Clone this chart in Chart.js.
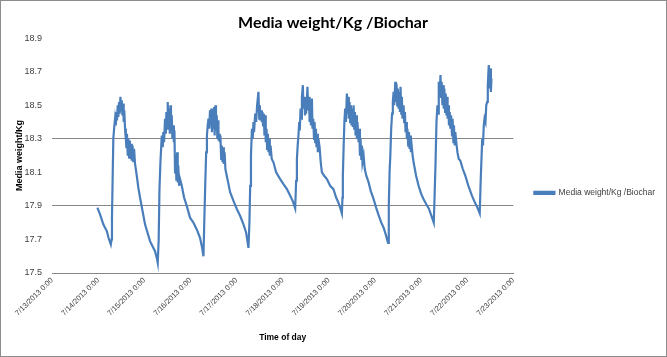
<!DOCTYPE html>
<html><head><meta charset="utf-8">
<script src="https://cdn.jsdelivr.net/npm/chart.js@4.4.1/dist/chart.umd.min.js"></script>
<style>
html,body{margin:0;padding:0;background:#fff;}
#wrap{width:665px;height:355px;border:1px solid #8c8c8c;}
canvas{display:block;}
</style></head>
<body><div id="wrap"><canvas id="c" width="665" height="355"></canvas></div>
<script>
const chartTitle = 'Media weight/Kg /Biochar';
const seriesName = 'Media weight/Kg /Biochar';
const yAxisTitle = 'Media weight/Kg';
const xAxisTitle = 'Time of day';
const dayLabels = ['7/13/2013 0:00','7/14/2013 0:00','7/15/2013 0:00','7/16/2013 0:00','7/17/2013 0:00','7/18/2013 0:00','7/19/2013 0:00','7/20/2013 0:00','7/21/2013 0:00','7/22/2013 0:00','7/23/2013 0:00'];
const gridValues = [17.9, 18.3];

// hours since 7/13/2013 0:00
const hoursSinceStart = [
  23.6,25.0,26.7,27.6,28.5,29.4,30.6,31.0,31.2,31.6,
  31.9,32.3,32.8,33.2,33.5,33.8,34.2,34.5,34.9,35.2,
  35.6,35.9,36.3,36.6,37.0,37.3,37.6,38.0,38.4,38.7,
  39.0,39.4,39.7,40.1,40.5,40.8,41.1,41.5,41.9,42.3,
  42.7,43.2,44.1,44.9,45.8,47.1,48.4,49.7,51.0,52.3,
  53.6,54.5,55.0,
  55.5,55.9,56.4,57.1,57.6,57.9,58.3,58.8,59.2,59.5,
  59.9,60.2,60.5,60.9,61.3,61.6,61.9,62.3,62.6,63.0,
  63.4,63.7,64.0,64.4,64.7,65.1,65.4,65.7,66.1,66.6,
  67.5,68.7,70.1,71.8,73.6,75.3,77.0,78.1,78.8,
  79.2,79.7,80.2,80.6,81.0,81.4,81.8,82.2,82.5,82.9,
  83.2,83.6,83.9,84.3,84.6,85.0,85.3,85.7,86.0,86.4,
  86.6,87.0,87.3,87.6,88.0,88.3,88.7,89.0,89.4,89.8,
  90.2,90.9,91.8,92.7,94.4,96.2,97.9,99.6,101.0,102.2,
  102.7,103.1,103.5,104.0,104.4,104.8,105.1,105.7,106.2,106.7,
  107.4,107.8,108.1,108.4,108.8,109.2,109.5,109.8,110.2,110.5,
  110.9,111.2,111.6,111.9,112.3,112.6,112.9,113.3,113.7,114.3,
  115.2,116.6,118.7,120.4,122.2,123.9,125.2,126.5,
  127.0,127.4,127.8,128.2,128.6,128.9,129.3,129.6,130.0,130.5,
  130.8,131.2,131.6,131.9,132.2,132.9,133.3,133.7,134.0,134.4,
  134.7,135.2,135.5,135.9,136.3,136.6,136.9,137.3,137.6,138.0,
  138.3,138.6,139.2,139.8,140.4,141.6,143.0,144.7,146.4,147.8,
  149.0,149.9,150.8,
  151.1,151.3,151.7,152.1,152.5,152.9,153.4,153.7,154.1,154.4,
  154.8,155.1,155.5,155.8,156.2,156.5,156.9,157.2,157.6,157.9,
  158.3,158.6,158.9,159.5,159.8,160.2,160.5,160.9,161.2,161.5,
  162.1,162.7,163.5,164.7,165.8,167.3,168.6,169.9,171.3,172.5,
  173.6,174.8,
  175.2,175.6,176.0,176.4,176.9,177.3,177.7,178.0,178.6,178.9,
  179.2,179.6,179.9,180.3,180.6,181.0,181.3,181.7,182.0,182.3,
  182.9,183.2,183.6,183.9,184.3,184.6,184.9,185.3,185.7,186.0,
  186.3,186.7,187.1,187.6,188.1,189.4,190.7,192.1,193.3,194.7,
  196.0,197.1,198.6,
  199.0,199.5,200.0,200.5,200.9,201.2,201.6,202.1,202.4,202.7,
  203.1,203.4,203.8,204.1,204.5,204.8,205.2,205.5,205.8,206.2,
  206.5,206.9,207.2,207.6,208.1,208.4,208.8,209.1,209.5,209.8,
  210.3,210.9,211.6,212.4,213.7,215.0,216.6,218.5,220.0,221.3,
  222.5,
  223.0,223.8,224.2,224.6,225.0,225.5,225.9,226.4,226.7,227.2,
  227.6,228.0,228.3,228.6
];
const weightKg = [
  17.89,17.85,17.79,17.77,17.75,17.71,17.67,17.70,17.83,18.10,
  18.30,18.36,18.42,18.38,18.46,18.41,18.50,18.43,18.52,18.45,
  18.55,18.47,18.53,18.44,18.51,18.40,18.47,18.36,18.30,18.25,
  18.33,18.20,18.30,18.19,18.29,18.18,18.27,18.17,18.26,18.16,
  18.24,18.15,18.08,18.01,17.95,17.87,17.79,17.74,17.69,17.66,
  17.63,17.59,17.56,
  17.70,18.00,18.16,18.32,18.25,18.34,18.28,18.42,18.33,18.46,
  18.36,18.52,18.40,18.48,18.33,18.50,18.36,18.44,18.30,18.38,
  18.28,18.35,18.10,18.20,18.05,18.22,18.04,18.14,18.02,18.06,
  18.02,17.95,17.90,17.83,17.80,17.76,17.71,17.65,17.60,
  17.80,18.02,18.22,18.32,18.38,18.42,18.36,18.47,18.38,18.48,
  18.34,18.47,18.36,18.49,18.32,18.50,18.35,18.44,18.30,18.41,
  18.29,18.33,18.28,18.32,18.18,18.26,18.16,18.25,18.15,18.22,
  18.12,18.08,18.03,17.98,17.93,17.88,17.84,17.79,17.74,17.65,
  17.80,18.02,18.20,18.36,18.30,18.40,18.34,18.45,18.40,18.50,
  18.58,18.42,18.50,18.41,18.47,18.40,18.46,18.38,18.45,18.32,
  18.44,18.28,18.36,18.24,18.33,18.22,18.30,18.20,18.26,18.18,
  18.16,18.10,18.06,18.03,18.00,17.96,17.93,17.885,
  18.05,18.18,18.26,18.32,18.40,18.35,18.48,18.42,18.55,18.62,
  18.48,18.55,18.44,18.52,18.45,18.61,18.47,18.55,18.40,18.50,
  18.38,18.54,18.36,18.42,18.30,18.40,18.28,18.36,18.25,18.33,
  18.22,18.30,18.25,18.16,18.10,18.08,18.06,18.02,18.00,17.95,
  17.92,17.89,17.855,
  17.95,18.08,18.25,18.40,18.48,18.40,18.57,18.45,18.55,18.42,
  18.52,18.40,18.50,18.38,18.48,18.37,18.50,18.36,18.46,18.32,
  18.44,18.30,18.40,18.28,18.36,18.20,18.30,18.18,18.26,18.16,
  18.20,18.12,18.08,18.04,17.99,17.94,17.89,17.845,17.80,17.77,
  17.73,17.68,
  17.90,18.10,18.20,18.35,18.45,18.52,18.58,18.50,18.64,18.52,
  18.63,18.50,18.60,18.48,18.58,18.46,18.61,18.45,18.55,18.42,
  18.50,18.40,18.46,18.34,18.40,18.30,18.36,18.26,18.34,18.24,
  18.32,18.22,18.26,18.20,18.16,18.08,18.02,17.97,17.94,17.91,
  17.885,17.85,17.80,
  17.95,18.15,18.40,18.50,18.45,18.64,18.55,18.68,18.55,18.64,
  18.50,18.62,18.48,18.60,18.46,18.57,18.44,18.55,18.42,18.50,
  18.38,18.46,18.36,18.44,18.32,18.42,18.28,18.38,18.26,18.34,
  18.28,18.22,18.18,18.17,18.12,18.08,18.02,17.96,17.92,17.89,
  17.855,
  18.05,18.30,18.26,18.38,18.42,18.40,18.50,18.52,18.62,18.74,
  18.60,18.72,18.58,18.66
];

const lineColor = '#4a7ebb';
const axisGray = '#878787';

new Chart(document.getElementById('c'), {
  type: 'line',
  data: {
    datasets: [{
      label: seriesName,
      data: hoursSinceStart.map((h, i) => ({x: h, y: weightKg[i]})),
      borderColor: lineColor,
      backgroundColor: lineColor,
      borderWidth: 2.2,
      pointRadius: 0,
      tension: 0
    }]
  },
  options: {
    responsive: false,
    animation: false,
    devicePixelRatio: 1,
    layout: {padding: {left: 0, right: 1, top: 0, bottom: 0}},
    plugins: {
      title: {display: true, text: chartTitle, color: '#000',
        font: {family: 'Lato', size: 16, weight: 'bold'}, padding: {top: 12, bottom: 6}},
      legend: {
        position: 'right', align: 'center',
        title: {display: true, text: '', font: {size: 8}, padding: {top: 19, bottom: 0}},
        labels: {boxWidth: 20, boxHeight: 2, padding: 21, color: '#404040',
          font: {family: 'Liberation Sans', size: 8.5}}
      },
      tooltip: {enabled: false}
    },
    scales: {
      x: {
        type: 'linear', min: 0, max: 240,
        afterFit(s) { s.height = 83; },
        grid: {display: false, drawTicks: false},
        border: {display: true, color: axisGray, width: 1},
        ticks: {stepSize: 24, autoSkip: false, minRotation: 45, maxRotation: 45, padding: 3,
          color: '#404040', font: {family: 'Liberation Sans', size: 7.5},
          callback: (v) => dayLabels[Math.round(v / 24)]},
        title: {display: true, text: xAxisTitle, color: '#000',
          font: {family: 'Liberation Sans', size: 8.5, weight: 'bold'}, padding: {top: 0, bottom: 13}}
      },
      y: {
        min: 17.5, max: 18.9,
        afterFit(s) { s.width = 51; },
        grid: {drawTicks: false, lineWidth: 1,
          color: (c) => (c.tick && gridValues.some(g => Math.abs(g - c.tick.value) < 1e-6)) ? axisGray : 'rgba(0,0,0,0)'},
        border: {display: false},
        ticks: {stepSize: 0.2, padding: 10, color: '#404040',
          font: {family: 'Liberation Sans', size: 9}, callback: (v) => v.toFixed(1)},
        title: {display: true, text: yAxisTitle, color: '#000',
          font: {family: 'Liberation Sans', size: 9, weight: 'bold'}, padding: {top: 13, bottom: 0}}
      }
    }
  }
});
</script>
</body></html>
